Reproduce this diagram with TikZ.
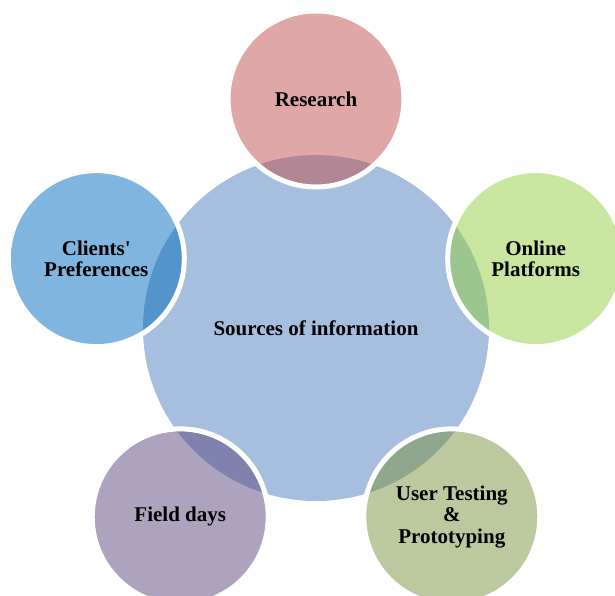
\documentclass[tikz,border=0pt]{standalone}
\usepackage{fontspec}
\setmainfont{Liberation Serif}
\usepackage{tikz}
\usetikzlibrary{positioning}
\usepackage{xcolor}
\definecolor{hubblue}{RGB}{167,191,222}
\definecolor{rescol}{RGB}{191,79,77}
\definecolor{onlcol}{RGB}{145,205,65}
\definecolor{usrcol}{RGB}{121,145,61}
\definecolor{fldcol}{RGB}{91,71,127}
\definecolor{clicol}{RGB}{0,107,189}

\begin{document}
\begin{tikzpicture}[x=1pt,y=1pt]
  % Styles for the hub and the surrounding circles
  \tikzset{
    hub/.style={
      circle,
      fill=hubblue,
      minimum size=346pt,
      inner sep=0pt
    },
    source/.style={
      circle,
      draw=white,
      line width=5pt,
      fill opacity=0.5,
      text opacity=1,
      minimum size=176pt,
      inner sep=0pt,
      align=center
    },
    every node/.style={font=\fontsize{21}{21.5}\selectfont\bfseries}
  }

  % Page frame
  \clip (-316,-265) rectangle (299,330);

  % Centre circle
  \node[hub] (hub) at (0,2) {Sources of information};

  % Outer circles at the corners of a pentagon
  \def\radius{231pt}
  \node[source, fill=rescol] (s1) at (90:\radius)  {Research};
  \node[source, fill=onlcol] (s2) at (18:\radius)  {Online\\Platforms};
  \node[source, fill=usrcol] (s3) at (306:\radius) {User Testing\\\&\\Prototyping};
  \node[source, fill=fldcol] (s4) at (234:\radius) {Field days};
  \node[source, fill=clicol] (s5) at (162:\radius) {Clients\textquotesingle\\Preferences};
\end{tikzpicture}
\end{document}
